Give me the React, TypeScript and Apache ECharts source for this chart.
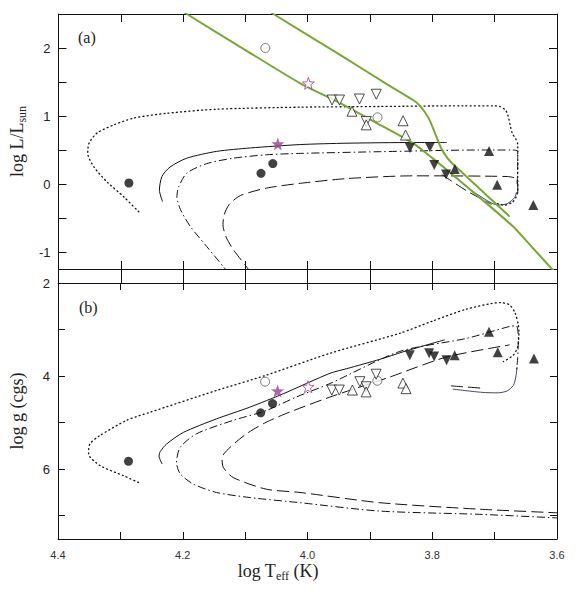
import { useEffect, useRef } from "react";
import * as echarts from "echarts";

// ---------- Panel (a): log L vs log Teff ----------
const filledCirclesA = [[4.287, 0.015], [4.075, 0.157], [4.056, 0.30]];
const openCirclesA = [[4.068, 2.0], [3.888, 0.98]];
const filledStarA = [[4.048, 0.59]];
const openStarA = [[3.999, 1.48]];
const openDownA = [[3.961, 1.235], [3.949, 1.235], [3.917, 1.25], [3.890, 1.32], [3.906, 0.92]];
const openUpA = [[3.929, 1.07], [3.906, 0.87], [3.847, 0.93], [3.843, 0.72]];
const filledDownA = [[3.836, 0.53], [3.804, 0.54], [3.797, 0.28], [3.778, 0.14]];
const filledUpA = [[3.764, 0.22], [3.709, 0.485], [3.696, -0.01], [3.638, -0.31]];

const dottedA = [[4.271, -0.41], [4.295, -0.19], [4.322, 0.03], [4.343, 0.25], [4.353, 0.45], [4.351, 0.60], [4.338, 0.75], [4.311, 0.87], [4.279, 0.97], [4.226, 1.04], [4.146, 1.10], [4.012, 1.13], [3.884, 1.14], [3.75, 1.15], [3.702, 1.15], [3.692, 1.14], [3.683, 1.09], [3.679, 1.02], [3.672, 0.75], [3.666, 0.66], [3.663, 0.58], [3.663, 0.50], [3.663, -0.09], [3.666, -0.20], [3.672, -0.27], [3.684, -0.31], [3.696, -0.29]];
const solidA = [[4.233, -0.26], [4.238, -0.09], [4.234, 0.11], [4.221, 0.25], [4.194, 0.38], [4.146, 0.48], [4.092, 0.53], [4.012, 0.58], [3.937, 0.60], [3.831, 0.61], [3.777, 0.61]];
const dashDotA = [[4.126, -1.32], [4.135, -1.22], [4.162, -0.92], [4.188, -0.63], [4.204, -0.38], [4.210, -0.19], [4.207, -0.04], [4.194, 0.16], [4.162, 0.30], [4.119, 0.38], [4.066, 0.43], [4.012, 0.45], [3.884, 0.475], [3.724, 0.50], [3.672, 0.50], [3.663, 0.48], [3.663, 0.30], [3.664, 0.0]];
const dashedA = [[4.090, -1.32], [4.098, -1.22], [4.119, -0.97], [4.131, -0.78], [4.136, -0.60], [4.134, -0.45], [4.126, -0.30], [4.108, -0.17], [4.066, -0.06], [4.012, 0.01], [3.937, 0.08], [3.831, 0.12], [3.68, 0.11], [3.666, 0.08], [3.663, -0.01], [3.663, -0.16]];
const thinTailA = [[3.777, 0.21], [3.745, -0.04], [3.713, -0.24], [3.695, -0.31], [3.680, -0.29], [3.668, -0.20], [3.665, -0.12]];
const dashTailA = [[3.785, 0.14], [3.745, -0.10], [3.705, -0.30]];
const greenBlueEdge = [[4.21, 2.6], [4.194, 2.5], [4.10, 1.97], [4.012, 1.48], [3.948, 1.19], [3.89, 0.90], [3.831, 0.60], [3.80, 0.38], [3.777, 0.21], [3.72, -0.23], [3.670, -0.63], [3.64, -0.93], [3.609, -1.24], [3.6, -1.33]];
const greenRedEdge = [[4.07, 2.6], [4.055, 2.5], [3.95, 1.91], [3.875, 1.48], [3.831, 1.235], [3.822, 1.17], [3.813, 1.07], [3.805, 0.95], [3.798, 0.80], [3.792, 0.66], [3.786, 0.53], [3.779, 0.42], [3.770, 0.32], [3.757, 0.21], [3.745, 0.107], [3.71, -0.19], [3.676, -0.48]];

// ---------- Panel (b): log g vs log Teff ----------
const filledCirclesB = [[4.287, 5.83], [4.075, 4.79], [4.056, 4.59]];
const openCirclesB = [[4.068, 4.12], [3.888, 4.10]];
const filledStarB = [[4.048, 4.32]];
const openStarB = [[3.999, 4.23]];
const openDownB = [[3.961, 4.30], [3.949, 4.30], [3.916, 4.12], [3.890, 3.96], [3.906, 4.23]];
const openUpB = [[3.928, 4.30], [3.906, 4.34], [3.847, 4.15], [3.842, 4.27]];
const filledDownB = [[3.836, 3.55], [3.805, 3.51], [3.797, 3.58], [3.777, 3.66]];
const filledUpB = [[3.764, 3.55], [3.709, 3.05], [3.695, 3.49], [3.637, 3.62]];

const dottedB = [[4.271, 6.285], [4.295, 6.14], [4.333, 5.92], [4.351, 5.67], [4.349, 5.46], [4.333, 5.28], [4.290, 4.95], [4.253, 4.78], [4.146, 4.31], [4.066, 3.98], [3.964, 3.51], [3.852, 3.08], [3.80, 2.82], [3.745, 2.56], [3.705, 2.44], [3.690, 2.42], [3.676, 2.47], [3.667, 2.65], [3.662, 2.90], [3.661, 3.05], [3.663, 3.37], [3.670, 3.55], [3.686, 3.69]];
const solidB = [[4.233, 5.89], [4.238, 5.72], [4.236, 5.62], [4.226, 5.46], [4.199, 5.21], [4.146, 4.92], [4.093, 4.67], [4.039, 4.38], [3.964, 3.94], [3.937, 3.84], [3.884, 3.64], [3.847, 3.48], [3.78, 3.22]];
const dashDotB = [[3.595, 7.05], [3.724, 6.97], [3.884, 6.90], [4.012, 6.72], [4.092, 6.61], [4.146, 6.50], [4.183, 6.32], [4.204, 6.10], [4.210, 5.85], [4.204, 5.53], [4.178, 5.24], [4.119, 4.95], [4.066, 4.74], [4.018, 4.45], [3.964, 4.16], [3.852, 3.47], [3.745, 3.19], [3.675, 2.93], [3.665, 2.92], [3.662, 3.2], [3.663, 3.6], [3.665, 3.9]];
const dashedB = [[3.595, 6.94], [3.724, 6.86], [3.884, 6.72], [4.012, 6.50], [4.066, 6.43], [4.119, 6.18], [4.135, 5.96], [4.137, 5.75], [4.124, 5.53], [4.098, 5.24], [4.066, 4.99], [4.028, 4.77], [3.964, 4.45], [3.868, 4.02], [3.777, 3.59], [3.676, 3.33]];
const thinTailB = [[3.767, 4.28], [3.72, 4.35], [3.695, 4.36], [3.680, 4.32], [3.670, 4.20], [3.666, 4.02], [3.664, 3.8]];
const dashTailB = [[3.77, 4.21], [3.72, 4.26]];

const STAR = "path://M50,2 L61.8,36.2 L97.6,36.9 L69.1,58.6 L79.4,93.1 L50,72.5 L20.6,93.1 L30.9,58.6 L2.4,36.9 L38.2,36.2 Z";
const INK = "#111";
const GREEN = "#78a832";
const PURPLE = "#9c3f8f";
const SERIF = "'Liberation Serif', 'DejaVu Serif', serif";
const SANS = "'Liberation Sans', Arial, sans-serif";

function buildOption() {
  const xBase = {
    type: "value",
    min: 3.6,
    max: 4.4,
    inverse: true,
    interval: 0.1,
    splitLine: { show: false },
    axisLine: { show: true, onZero: false, lineStyle: { color: INK, width: 1 } },
  };
  const tick = (inside: boolean, length: number) => ({ show: true, inside, length, lineStyle: { color: INK, width: 1 } });
  const xFmt = (v: number) => (Math.round(v * 10) % 2 === 0 ? v.toFixed(1) : "");
  const yFmtA = (v: number) => (Math.abs(v - Math.round(v)) < 1e-6 ? String(Math.round(v)) : "");
  const yFmtB = (v: number) => (Math.abs(v - Math.round(v)) < 1e-6 && Math.round(v) % 2 === 0 ? String(Math.round(v)) : "");

  const yA = { type: "value", min: -1.25, max: 2.5, splitNumber: 7, minInterval: 0.5, maxInterval: 0.5, splitLine: { show: false }, axisLine: { show: true, onZero: false, lineStyle: { color: INK } } };
  const yB = { type: "value", min: 2, max: 7.5, inverse: true, interval: 1, splitLine: { show: false }, axisLine: { show: true, onZero: false, lineStyle: { color: INK } } };
  const nameStyle = {
    rich: {
      t: { fontFamily: SERIF, fontSize: 18, color: "#222", lineHeight: 22 },
      s: { fontFamily: SERIF, fontSize: 12, color: "#222", lineHeight: 12, verticalAlign: "bottom" },
    },
  };

  const line = (data: number[][], g: number, lineStyle: any, z = 2, smooth = 0.25) => ({
    type: "line",
    xAxisIndex: g === 0 ? 0 : 4,
    yAxisIndex: g === 0 ? 0 : 2,
    data,
    symbol: "none",
    showSymbol: false,
    smooth,
    silent: true,
    clip: true,
    z,
    lineStyle,
  });
  const pts = (data: number[][], g: number, symbol: string, size: number, itemStyle: any, rotate = 0) => ({
    type: "scatter",
    xAxisIndex: g === 0 ? 0 : 4,
    yAxisIndex: g === 0 ? 0 : 2,
    data,
    symbol,
    symbolSize: size,
    symbolRotate: rotate,
    itemStyle,
    silent: true,
    z: 5,
  });
  const filled = { color: INK };
  const open = { color: "#fff", borderColor: "#222", borderWidth: 1 };
  const openGrey = { color: "#fff", borderColor: "#555", borderWidth: 1 };

  const dotted = { color: INK, width: 1.3, type: [1, 3.2], cap: "round" };
  const solid = { color: INK, width: 1 };
  const dashDot = { color: INK, width: 1, type: [8, 3, 1.5, 3] };
  const dashed = { color: INK, width: 1, type: [12, 5] };
  const thin = { color: "#2a3355", width: 0.9 };
  const green = { color: GREEN, width: 2 };

  const series: any[] = [];
  // panel (a) curves
  series.push(line(dottedA, 0, dotted));
  series.push(line(solidA, 0, solid));
  series.push(line(dashDotA, 0, dashDot));
  series.push(line(dashedA, 0, dashed));
  series.push(line(thinTailA, 0, thin));
  series.push(line(dashTailA, 0, dashed));
  series.push(line(greenBlueEdge, 0, green, 3, 0.2));
  series.push(line(greenRedEdge, 0, green, 3, 0.2));
  // panel (b) curves
  series.push(line(dottedB, 1, dotted));
  series.push(line(solidB, 1, solid));
  series.push(line(dashDotB, 1, dashDot));
  series.push(line(dashedB, 1, dashed));
  series.push(line(thinTailB, 1, thin));
  series.push(line(dashTailB, 1, dashed));
  // points
  const groups = [
    [filledCirclesA, openCirclesA, filledStarA, openStarA, openDownA, openUpA, filledDownA, filledUpA],
    [filledCirclesB, openCirclesB, filledStarB, openStarB, openDownB, openUpB, filledDownB, filledUpB],
  ];
  groups.forEach((gr, g) => {
    const [fc, oc, fs, os, od, ou, fd, fu] = gr;
    series.push(pts(fc, g, "circle", 9, filled));
    series.push(pts(oc, g, "circle", 9, openGrey));
    series.push(pts(od, g, "triangle", 10, open, 180));
    series.push(pts(ou, g, "triangle", 10, open));
    series.push(pts(fd, g, "triangle", 10, filled, 180));
    series.push(pts(fu, g, "triangle", 10, filled));
    series.push(pts(fs, g, STAR, 13, { color: PURPLE }));
    series.push(pts(os, g, STAR, 12, { color: "#fff", borderColor: PURPLE, borderWidth: 1 }));
  });

  return {
    animation: false,
    backgroundColor: "#fff",
    grid: [
      { left: 58, top: 14, width: 499, height: 255, containLabel: false },
      { left: 58, top: 283, width: 499, height: 256, containLabel: false },
    ],
    xAxis: [
      { ...xBase, gridIndex: 0, position: "bottom", axisTick: tick(true, 8), axisLabel: { show: false } },
      { ...xBase, gridIndex: 0, position: "top", axisTick: tick(true, 8), axisLabel: { show: false } },
      { ...xBase, gridIndex: 0, position: "bottom", axisTick: tick(false, 14), axisLabel: { show: false } },
      { ...xBase, gridIndex: 1, position: "top", axisTick: tick(true, 7), axisLabel: { show: false } },
      {
        ...xBase,
        gridIndex: 1,
        position: "bottom",
        axisTick: tick(true, 7),
        axisLabel: { show: true, formatter: xFmt, fontFamily: SANS, fontSize: 11, color: "#333", margin: 10 },
      },
    ],
    yAxis: [
      {
        ...yA,
        gridIndex: 0,
        position: "left",
        axisTick: tick(true, 8),
        axisLabel: { show: true, formatter: yFmtA, fontFamily: SANS, fontSize: 13, color: "#222", margin: 8 },
        name: "{t|log L/L}{s|sun}",
        nameLocation: "middle",
        nameRotate: 90,
        nameGap: 30,
        nameTextStyle: nameStyle,
      },
      { ...yA, gridIndex: 0, position: "right", axisTick: tick(true, 8), axisLabel: { show: false } },
      {
        ...yB,
        gridIndex: 1,
        position: "left",
        axisTick: tick(true, 7),
        axisLabel: { show: true, formatter: yFmtB, fontFamily: SANS, fontSize: 13, color: "#222", margin: 8 },
        name: "{t|log g (cgs)}",
        nameLocation: "middle",
        nameRotate: 90,
        nameGap: 30,
        nameTextStyle: nameStyle,
      },
      { ...yB, gridIndex: 1, position: "right", axisTick: tick(true, 7), axisLabel: { show: false } },
    ],
    graphic: [
      { type: "text", left: 78, top: 29, style: { text: "(a)", fontFamily: SERIF, fontSize: 16, fill: "#222" } },
      { type: "text", left: 79, top: 299, style: { text: "(b)", fontFamily: SERIF, fontSize: 16, fill: "#222" } },
      {
        type: "text",
        x: 278,
        y: 571,
        style: {
          text: "{t|log T}{s|eff}{t| (K)}",
          align: "center",
          verticalAlign: "middle",
          rich: {
            t: { fontFamily: SERIF, fontSize: 18, fill: "#222", lineHeight: 22 },
            s: { fontFamily: SERIF, fontSize: 12, fill: "#222", lineHeight: 12, verticalAlign: "bottom" },
          },
        },
      },
    ],
    series,
  };
}

export default function App() {
  const ref = useRef<HTMLDivElement>(null);
  useEffect(() => {
    if (!ref.current) return;
    const chart = echarts.init(ref.current, null, { renderer: "svg" });
    chart.setOption(buildOption() as any);
    return () => chart.dispose();
  }, []);
  return <div ref={ref} style={{ position: "fixed", left: 0, top: 0, width: 577, height: 594 }} />;
}
